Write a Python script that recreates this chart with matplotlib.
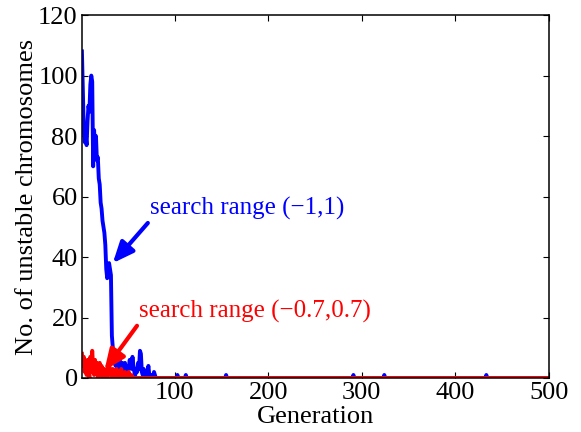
import numpy as np
import matplotlib
matplotlib.use('Agg')
import matplotlib.pyplot as plt

plt.rcParams['font.family'] = ['Liberation Serif', 'DejaVu Serif']

n_gen = 500

# unstable chromosomes, search range (-1,1), generations 1..80
blue_head = [108, 95, 82, 78, 80, 77, 85, 90, 88, 97,
             100, 98, 70, 82, 76, 80, 72, 73, 66, 64,
             58, 56, 52, 50, 48, 44, 36, 33, 37, 38,
             36, 34, 14, 10, 6, 5, 4, 5, 3, 6,
             8, 4, 3, 5, 2, 3, 5, 1, 2, 4,
             3, 6, 5, 3, 7, 4, 2, 1, 3, 2,
             5, 3, 9, 8, 2, 1, 3, 2, 1, 0,
             2, 4, 1, 0, 1, 0, 0, 2, 1, 0]
# isolated single unstable chromosomes later on
blue_spike_gens = [103, 112, 155, 291, 324, 433]
blue_spike_vals = [1, 1, 1, 1, 1, 1]

# search range (-0.7,0.7), generations 1..55
red_head = [8, 4, 7, 2, 5, 1, 6, 3, 0, 7,
            2, 9, 4, 1, 6, 2, 5, 0, 3, 5,
            1, 4, 0, 2, 3, 1, 2, 0, 3, 5,
            2, 1, 0, 3, 2, 0, 1, 3, 0, 2,
            1, 0, 3, 1, 0, 1, 2, 0, 1, 0,
            2, 0, 0, 1, 0]

gen = np.arange(1, n_gen + 1)
blue = np.zeros(n_gen)
blue[:len(blue_head)] = blue_head
for g, v in zip(blue_spike_gens, blue_spike_vals):
    blue[g - 1] = v
red = np.zeros(n_gen)
red[:len(red_head)] = red_head

fig = plt.figure(figsize=(5.81, 4.32), dpi=100)
ax = fig.add_axes([0.141, 0.125, 0.804, 0.840])

ax.plot(gen, blue, color='#0000ff', lw=2.8)
ax.plot(gen, red, color='#ff0000', lw=2.8)

ax.set_xlim(1, 500)
ax.set_ylim(0, 120)
ax.set_xticks([100, 200, 300, 400, 500])
ax.set_yticks([0, 20, 40, 60, 80, 100, 120])
ax.tick_params(direction='in', top=True, right=True, labelsize=19, length=4, pad=3)
for s in ax.spines.values():
    s.set_linewidth(1.1)

ax.set_xlabel('Generation', fontsize=19, labelpad=1)
ax.set_ylabel('No. of unstable chromosomes', fontsize=19, labelpad=0)

ax.annotate('search range (\u22121,1)', xy=(34, 38), xytext=(74, 56),
            color='#0000ff', fontsize=18, va='center', ha='left',
            arrowprops=dict(arrowstyle='-|>,head_length=0.7,head_width=0.3',
                            color='#0000ff', lw=3, shrinkA=0, shrinkB=0,
                            relpos=(0, 0.0)))
ax.annotate('search range (\u22120.7,0.7)', xy=(25, 2.5), xytext=(62, 22),
            color='#ff0000', fontsize=18, va='center', ha='left',
            arrowprops=dict(arrowstyle='-|>,head_length=0.7,head_width=0.3',
                            color='#ff0000', lw=3, shrinkA=0, shrinkB=0,
                            relpos=(0, 0.0)))

fig.savefig('out.png', dpi=100)
